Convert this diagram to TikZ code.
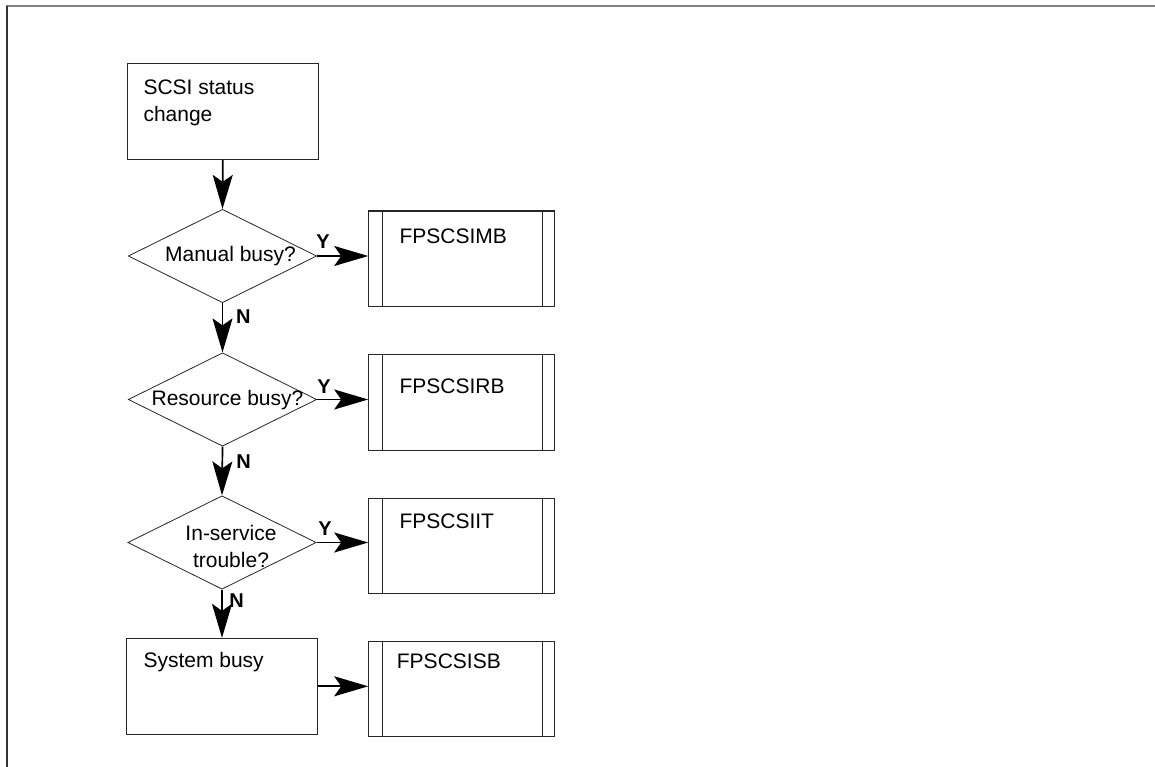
\documentclass[tikz,border=0pt]{standalone}
\usepackage{fontspec}
\setmainfont{Liberation Sans}
\usetikzlibrary{shapes.geometric,arrows.meta,calc}
\begin{document}
\begin{tikzpicture}[x=1pt,y=-1pt,
  boxline/.style={draw=black!85, line width=1.1pt},
  procbox/.style={boxline, rectangle, minimum width=190.6pt, minimum height=95.8pt, inner sep=0pt},
  subbox/.style={boxline, rectangle, minimum width=185.3pt, minimum height=95.7pt, inner sep=0pt},
  decision/.style={boxline, diamond, minimum width=188.4pt, minimum height=93.4pt, inner sep=0pt, line width=0.8pt},
  txt/.style={font=\fontsize{21}{26.7}\selectfont, inner sep=0pt, align=center},
  ltxt/.style={font=\fontsize{21}{26.7}\selectfont, inner sep=0pt, anchor=west, align=left},
  yn/.style={font=\fontsize{20}{22}\selectfont\bfseries, inner sep=0pt},
  flow/.style={line width=1.7pt, -{Stealth[length=34pt,width=20pt,inset=7pt]}}
]
\useasboundingbox (0,0) rectangle (1155,767);
% frame
\draw[draw=black!50, line width=2pt] (6,6.5) -- (1155,6.5);
\draw[draw=black!80, line width=2pt] (6.5,6) -- (6.5,767);

% left column
\node[procbox] (start) at (222.8,111.7) {};
\node[ltxt, anchor=north west] (starttxt) at (143.3,79.5) {SCSI status\\change};
\node[decision] (d1) at (222.5,256) {};
\node[txt] (d1t) at (230.5,256) {Manual busy?};
\node[decision] (d2) at (222.5,399.5) {};
\node[txt] (d2t) at (227.5,400) {Resource busy?};
\node[decision] (d3) at (222,542.5) {};
\node[txt] (d3t) at (231,546.7) {In-service\\trouble?};
\node[procbox] (sys) at (222,686.3) {};
\node[ltxt] (systxt) at (143.3,661.7) {System busy};

% right column
\foreach \n/\cy/\t/\ty/\tx in {mb/258.9/FPSCSIMB/236.7/399.3, rb/402.2/FPSCSIRB/386.7/399.3, it/545.9/FPSCSIIT/521.7/399.3, sb/688.9/FPSCSISB/661.7/396.7}{
  \node[subbox] (\n) at (461.4,\cy) {};
  \draw[boxline] ($(\n.north west)+(14,0)$) -- ($(\n.south west)+(14,0)$);
  \draw[boxline] ($(\n.north east)+(-12.3,0)$) -- ($(\n.south east)+(-12.3,0)$);
  \node[ltxt] (\n t) at (\tx,\ty) {\t};
}

% connectors
\draw[flow] (start.south) -- (d1.north);
\draw[flow] (d1.south) -- (d2.north);
\draw[flow] (d2.south) -- (d3.north);
\draw[flow] (d3.south) -- (d3.south |- sys.north);
\draw[flow] (d1.east) -- (d1.east -| mb.west);
\draw[flow] (d2.east) -- (d2.east -| rb.west);
\draw[flow] (d3.east) -- (d3.east -| it.west);
\draw[flow] (sys.east) -- (sys.east -| sb.west);

% labels
\node[yn] (y1) at (323,242) {Y};
\node[yn] (y2) at (324,386.7) {Y};
\node[yn] (y3) at (325,529) {Y};
\node[yn] (n1) at (243.3,316.7) {N};
\node[yn] (n2) at (243.7,461.7) {N};
\node[yn] (n3) at (236.7,601) {N};
\end{tikzpicture}
\end{document}
